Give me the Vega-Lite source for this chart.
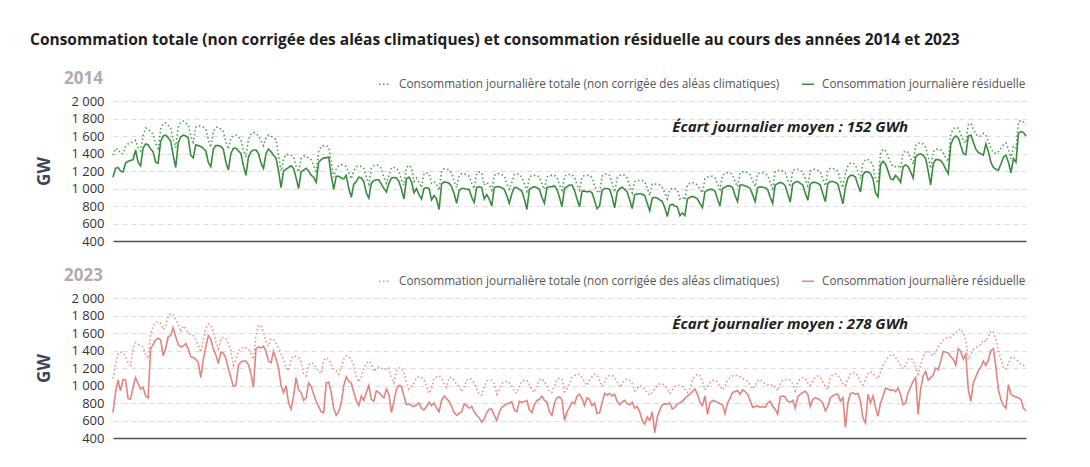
{
"$schema":"https://vega.github.io/schema/vega-lite/v6.json",
"padding":{"left":30,"top":32,"right":0,"bottom":0},
"title":{"text":"Consommation totale (non corrigée des aléas climatiques) et consommation résiduelle au cours des années 2014 et 2023","anchor":"start","frame":"group","dx":-83,"fontSize":15.5,"fontWeight":"bold","font":"Open Sans","color":"#1e1e1e","offset":22},
"config":{"font":"Open Sans","view":{"stroke":null},"axis":{"labelFont":"Open Sans","titleFont":"Open Sans"},"legend":{"labelFont":"Open Sans"}},
"spacing":19,
"resolve":{"scale":{"color":"independent","strokeDash":"independent"},"legend":{"color":"independent","strokeDash":"independent"}},
"datasets":{"daily":[
{"d":0,"a":1380,"b":1130,"c":1080,"e":690},{"d":1,"a":1460,"b":1230,"c":1250,"e":920},{"d":2,"a":1450,"b":1240,"c":1360,"e":1060},{"d":3,"a":1400,"b":1200,"c":1380,"e":940},{"d":4,"a":1400,"b":1190,"c":1370,"e":1070},{"d":5,"a":1480,"b":1290,"c":1330,"e":1065},{"d":6,"a":1510,"b":1310,"c":1260,"e":850},
{"d":7,"a":1520,"b":1320,"c":1230,"e":845},{"d":8,"a":1530,"b":1330,"c":1430,"e":980},{"d":9,"a":1550,"b":1440,"c":1490,"e":1090},{"d":10,"a":1470,"b":1300,"c":1470,"e":1020},{"d":11,"a":1430,"b":1260,"c":1460,"e":960},{"d":12,"a":1600,"b":1460,"c":1440,"e":980},{"d":13,"a":1690,"b":1510,"c":1350,"e":880},
{"d":14,"a":1680,"b":1500,"c":1310,"e":860},{"d":15,"a":1650,"b":1450,"c":1570,"e":1420},{"d":16,"a":1620,"b":1420,"c":1680,"e":1470},{"d":17,"a":1520,"b":1300,"c":1720,"e":1520},{"d":18,"a":1460,"b":1290,"c":1730,"e":1540},{"d":19,"a":1680,"b":1540,"c":1710,"e":1520},{"d":20,"a":1740,"b":1600,"c":1640,"e":1340},
{"d":21,"a":1750,"b":1610,"c":1680,"e":1420},{"d":22,"a":1720,"b":1580,"c":1800,"e":1560},{"d":23,"a":1690,"b":1540,"c":1820,"e":1570},{"d":24,"a":1560,"b":1380,"c":1810,"e":1660},{"d":25,"a":1470,"b":1240,"c":1760,"e":1560},{"d":26,"a":1700,"b":1520,"c":1700,"e":1470},{"d":27,"a":1760,"b":1590,"c":1610,"e":1440},
{"d":28,"a":1770,"b":1610,"c":1680,"e":1450},{"d":29,"a":1750,"b":1600,"c":1650,"e":1480},{"d":30,"a":1730,"b":1580,"c":1600,"e":1420},{"d":31,"a":1600,"b":1380,"c":1580,"e":1330},{"d":32,"a":1530,"b":1350,"c":1570,"e":1320},{"d":33,"a":1700,"b":1500,"c":1520,"e":1300},{"d":34,"a":1720,"b":1490,"c":1460,"e":1260},
{"d":35,"a":1710,"b":1480,"c":1380,"e":1090},{"d":36,"a":1700,"b":1460,"c":1530,"e":1300},{"d":37,"a":1680,"b":1430,"c":1650,"e":1440},{"d":38,"a":1560,"b":1300,"c":1705,"e":1570},{"d":39,"a":1470,"b":1250,"c":1690,"e":1530},{"d":40,"a":1650,"b":1450,"c":1610,"e":1420},{"d":41,"a":1700,"b":1490,"c":1500,"e":1350},
{"d":42,"a":1700,"b":1490,"c":1420,"e":1250},{"d":43,"a":1680,"b":1480,"c":1540,"e":1380},{"d":44,"a":1650,"b":1450,"c":1550,"e":1370},{"d":45,"a":1530,"b":1300,"c":1530,"e":1310},{"d":46,"a":1450,"b":1210,"c":1480,"e":1190},{"d":47,"a":1580,"b":1400,"c":1400,"e":1090},{"d":48,"a":1600,"b":1460,"c":1230,"e":990},
{"d":49,"a":1610,"b":1460,"c":1300,"e":1000},{"d":50,"a":1590,"b":1430,"c":1400,"e":1230},{"d":51,"a":1560,"b":1400,"c":1420,"e":1270},{"d":52,"a":1440,"b":1260,"c":1440,"e":1280},{"d":53,"a":1360,"b":1150,"c":1430,"e":1280},{"d":54,"a":1560,"b":1360,"c":1420,"e":1240},{"d":55,"a":1620,"b":1420,"c":1360,"e":1130},
{"d":56,"a":1640,"b":1440,"c":1300,"e":980},{"d":57,"a":1630,"b":1440,"c":1570,"e":1420},{"d":58,"a":1600,"b":1400,"c":1690,"e":1440},{"d":59,"a":1540,"b":1290,"c":1680,"e":1430},{"d":60,"a":1490,"b":1230,"c":1610,"e":1450},{"d":61,"a":1580,"b":1400,"c":1500,"e":1390},{"d":62,"a":1610,"b":1450,"c":1450,"e":1280},
{"d":63,"a":1600,"b":1420,"c":1530,"e":1260},{"d":64,"a":1580,"b":1380,"c":1530,"e":1390},{"d":65,"a":1560,"b":1350,"c":1480,"e":1300},{"d":66,"a":1380,"b":1200,"c":1430,"e":1200},{"d":67,"a":1200,"b":1010,"c":1360,"e":1000},{"d":68,"a":1330,"b":1200,"c":1300,"e":920},{"d":69,"a":1390,"b":1220,"c":1210,"e":1000},
{"d":70,"a":1390,"b":1240,"c":1170,"e":800},{"d":71,"a":1380,"b":1260,"c":1300,"e":730},{"d":72,"a":1360,"b":1230,"c":1340,"e":880},{"d":73,"a":1260,"b":1120,"c":1330,"e":1090},{"d":74,"a":1190,"b":1000,"c":1320,"e":950},{"d":75,"a":1340,"b":1190,"c":1270,"e":920},{"d":76,"a":1370,"b":1210,"c":1130,"e":830},
{"d":77,"a":1370,"b":1230,"c":1110,"e":860},{"d":78,"a":1350,"b":1200,"c":1230,"e":1030},{"d":79,"a":1330,"b":1150,"c":1260,"e":990},{"d":80,"a":1260,"b":1130,"c":1250,"e":900},{"d":81,"a":1200,"b":1070,"c":1200,"e":820},{"d":82,"a":1420,"b":1300,"c":1160,"e":760},{"d":83,"a":1480,"b":1330,"c":1140,"e":700},
{"d":84,"a":1490,"b":1350,"c":1280,"e":690},{"d":85,"a":1490,"b":1350,"c":1320,"e":1030},{"d":86,"a":1470,"b":1360,"c":1300,"e":1040},{"d":87,"a":1300,"b":1150,"c":1250,"e":920},{"d":88,"a":1130,"b":990,"c":1180,"e":740},{"d":89,"a":1220,"b":1140,"c":1170,"e":660},{"d":90,"a":1260,"b":1140,"c":1130,"e":700},
{"d":91,"a":1270,"b":1120,"c":1200,"e":800},{"d":92,"a":1270,"b":1110,"c":1300,"e":1000},{"d":93,"a":1250,"b":1150,"c":1340,"e":1100},{"d":94,"a":1180,"b":1000,"c":1330,"e":1050},{"d":95,"a":1110,"b":900,"c":1300,"e":1030},{"d":96,"a":1200,"b":1050,"c":1230,"e":920},{"d":97,"a":1250,"b":1080,"c":1100,"e":830},
{"d":98,"a":1260,"b":1130,"c":1040,"e":770},{"d":99,"a":1250,"b":1120,"c":1100,"e":880},{"d":100,"a":1230,"b":1080,"c":1200,"e":830},{"d":101,"a":1120,"b":950,"c":1250,"e":920},{"d":102,"a":1050,"b":890,"c":1280,"e":1000},{"d":103,"a":1230,"b":1060,"c":1250,"e":840},{"d":104,"a":1260,"b":1090,"c":1160,"e":820},
{"d":105,"a":1270,"b":1100,"c":1190,"e":940},{"d":106,"a":1260,"b":1100,"c":1210,"e":920},{"d":107,"a":1230,"b":1050,"c":1200,"e":890},{"d":108,"a":1130,"b":1000,"c":1180,"e":860},{"d":109,"a":1060,"b":960,"c":1190,"e":960},{"d":110,"a":1150,"b":1060,"c":1200,"e":900},{"d":111,"a":1240,"b":1120,"c":1090,"e":690},
{"d":112,"a":1240,"b":1125,"c":1030,"e":820},{"d":113,"a":1230,"b":1120,"c":1170,"e":960},{"d":114,"a":1200,"b":1080,"c":1200,"e":1000},{"d":115,"a":1100,"b":990,"c":1200,"e":990},{"d":116,"a":1040,"b":880,"c":1150,"e":880},{"d":117,"a":1240,"b":1110,"c":1040,"e":780},{"d":118,"a":1265,"b":1130,"c":960,"e":790},
{"d":119,"a":1240,"b":1080,"c":990,"e":770},{"d":120,"a":1080,"b":950,"c":1030,"e":760},{"d":121,"a":1120,"b":1000,"c":1090,"e":780},{"d":122,"a":1070,"b":930,"c":1100,"e":800},{"d":123,"a":1010,"b":880,"c":1090,"e":740},{"d":124,"a":1170,"b":1000,"c":1070,"e":720},{"d":125,"a":1180,"b":1010,"c":990,"e":760},
{"d":126,"a":1170,"b":1000,"c":910,"e":810},{"d":127,"a":1060,"b":870,"c":960,"e":770},{"d":128,"a":1080,"b":920,"c":1080,"e":800},{"d":129,"a":1050,"b":880,"c":1100,"e":740},{"d":130,"a":980,"b":760,"c":1110,"e":700},{"d":131,"a":1200,"b":1050,"c":1080,"e":830},{"d":132,"a":1225,"b":1075,"c":1020,"e":880},
{"d":133,"a":1225,"b":1070,"c":980,"e":850},{"d":134,"a":1210,"b":1060,"c":1090,"e":820},{"d":135,"a":1180,"b":1020,"c":1090,"e":760},{"d":136,"a":1080,"b":940,"c":1060,"e":690},{"d":137,"a":1010,"b":830,"c":1010,"e":660},{"d":138,"a":1150,"b":980,"c":990,"e":680},{"d":139,"a":1170,"b":1000,"c":930,"e":700},
{"d":140,"a":1165,"b":1000,"c":980,"e":790},{"d":141,"a":1160,"b":990,"c":1060,"e":770},{"d":142,"a":1140,"b":990,"c":1080,"e":740},{"d":143,"a":1060,"b":900,"c":1070,"e":760},{"d":144,"a":1000,"b":840,"c":1030,"e":700},{"d":145,"a":1170,"b":1010,"c":960,"e":660},{"d":146,"a":1190,"b":1020,"c":900,"e":630},
{"d":147,"a":1180,"b":1010,"c":890,"e":580},{"d":148,"a":1040,"b":880,"c":990,"e":620},{"d":149,"a":1070,"b":930,"c":1050,"e":690},{"d":150,"a":1040,"b":880,"c":1060,"e":730},{"d":151,"a":980,"b":800,"c":1060,"e":730},{"d":152,"a":1150,"b":1010,"c":1020,"e":660},{"d":153,"a":1170,"b":1020,"c":900,"e":600},
{"d":154,"a":1170,"b":1020,"c":960,"e":690},{"d":155,"a":1160,"b":1010,"c":1020,"e":750},{"d":156,"a":1140,"b":990,"c":1040,"e":770},{"d":157,"a":1060,"b":920,"c":1050,"e":790},{"d":158,"a":990,"b":830,"c":1030,"e":800},{"d":159,"a":1070,"b":940,"c":990,"e":815},{"d":160,"a":1160,"b":1010,"c":940,"e":720},
{"d":161,"a":1170,"b":1010,"c":910,"e":700},{"d":162,"a":1160,"b":990,"c":990,"e":820},{"d":163,"a":1130,"b":970,"c":1050,"e":810},{"d":164,"a":1050,"b":880,"c":1060,"e":815},{"d":165,"a":970,"b":760,"c":1060,"e":830},{"d":166,"a":1130,"b":990,"c":1010,"e":720},{"d":167,"a":1150,"b":1010,"c":950,"e":690},
{"d":168,"a":1150,"b":1020,"c":920,"e":780},{"d":169,"a":1150,"b":1010,"c":1000,"e":830},{"d":170,"a":1130,"b":990,"c":1060,"e":840},{"d":171,"a":1050,"b":900,"c":1080,"e":880},{"d":172,"a":990,"b":830,"c":1040,"e":830},{"d":173,"a":1130,"b":1010,"c":990,"e":810},{"d":174,"a":1150,"b":1020,"c":930,"e":700},
{"d":175,"a":1150,"b":1020,"c":920,"e":660},{"d":176,"a":1150,"b":1030,"c":1000,"e":800},{"d":177,"a":1130,"b":990,"c":1070,"e":860},{"d":178,"a":1040,"b":900,"c":1085,"e":870},{"d":179,"a":980,"b":790,"c":1070,"e":840},{"d":180,"a":1140,"b":1000,"c":930,"e":600},{"d":181,"a":1160,"b":1020,"c":960,"e":700},
{"d":182,"a":1160,"b":1040,"c":1030,"e":750},{"d":183,"a":1160,"b":1040,"c":1090,"e":810},{"d":184,"a":1130,"b":980,"c":1110,"e":790},{"d":185,"a":1040,"b":880,"c":1130,"e":880},{"d":186,"a":980,"b":790,"c":1125,"e":900},{"d":187,"a":1130,"b":970,"c":1090,"e":850},{"d":188,"a":1150,"b":970,"c":1040,"e":770},
{"d":189,"a":1150,"b":960,"c":1000,"e":860},{"d":190,"a":1150,"b":970,"c":1060,"e":840},{"d":191,"a":1120,"b":950,"c":1100,"e":770},{"d":192,"a":1030,"b":860,"c":1130,"e":800},{"d":193,"a":970,"b":770,"c":1120,"e":680},{"d":194,"a":950,"b":800,"c":1060,"e":690},{"d":195,"a":1140,"b":980,"c":990,"e":800},
{"d":196,"a":1160,"b":1000,"c":1040,"e":910},{"d":197,"a":1170,"b":1000,"c":1100,"e":890},{"d":198,"a":1150,"b":990,"c":1115,"e":910},{"d":199,"a":1060,"b":900,"c":1115,"e":880},{"d":200,"a":960,"b":780,"c":1090,"e":900},{"d":201,"a":1120,"b":960,"c":1040,"e":820},{"d":202,"a":1150,"b":1000,"c":980,"e":780},
{"d":203,"a":1160,"b":1015,"c":1020,"e":810},{"d":204,"a":1150,"b":990,"c":1065,"e":830},{"d":205,"a":1120,"b":960,"c":1075,"e":790},{"d":206,"a":1030,"b":870,"c":1060,"e":780},{"d":207,"a":950,"b":770,"c":1020,"e":810},{"d":208,"a":1080,"b":930,"c":940,"e":740},{"d":209,"a":1090,"b":935,"c":970,"e":760},
{"d":210,"a":1095,"b":940,"c":1000,"e":700},{"d":211,"a":1090,"b":935,"c":990,"e":600},{"d":212,"a":1080,"b":920,"c":960,"e":560},{"d":213,"a":1000,"b":830,"c":920,"e":640},{"d":214,"a":920,"b":745,"c":890,"e":600},{"d":215,"a":1050,"b":890,"c":920,"e":700},{"d":216,"a":1050,"b":900,"c":960,"e":460},
{"d":217,"a":1050,"b":890,"c":1000,"e":640},{"d":218,"a":1040,"b":870,"c":1020,"e":720},{"d":219,"a":1010,"b":850,"c":1020,"e":780},{"d":220,"a":950,"b":780,"c":1000,"e":790},{"d":221,"a":880,"b":680,"c":960,"e":790},{"d":222,"a":990,"b":810,"c":910,"e":800},{"d":223,"a":1000,"b":820,"c":950,"e":730},
{"d":224,"a":1000,"b":800,"c":990,"e":750},{"d":225,"a":980,"b":790,"c":1000,"e":790},{"d":226,"a":880,"b":690,"c":1000,"e":800},{"d":227,"a":900,"b":720,"c":990,"e":820},{"d":228,"a":870,"b":690,"c":960,"e":850},{"d":229,"a":1040,"b":880,"c":920,"e":880},{"d":230,"a":1060,"b":900,"c":960,"e":900},
{"d":231,"a":1070,"b":910,"c":1060,"e":930},{"d":232,"a":1060,"b":900,"c":1110,"e":960},{"d":233,"a":1040,"b":880,"c":1130,"e":900},{"d":234,"a":990,"b":830,"c":1110,"e":810},{"d":235,"a":950,"b":780,"c":1050,"e":770},{"d":236,"a":1110,"b":960,"c":950,"e":880},{"d":237,"a":1130,"b":980,"c":990,"e":670},
{"d":238,"a":1140,"b":990,"c":1030,"e":800},{"d":239,"a":1140,"b":990,"c":1060,"e":830},{"d":240,"a":1120,"b":970,"c":1060,"e":820},{"d":241,"a":1050,"b":880,"c":1040,"e":810},{"d":242,"a":990,"b":800,"c":1000,"e":790},{"d":243,"a":1150,"b":1000,"c":950,"e":780},{"d":244,"a":1170,"b":1015,"c":990,"e":680},
{"d":245,"a":1180,"b":1030,"c":1060,"e":800},{"d":246,"a":1180,"b":1030,"c":1090,"e":850},{"d":247,"a":1160,"b":1010,"c":1110,"e":920},{"d":248,"a":1080,"b":920,"c":1120,"e":930},{"d":249,"a":1020,"b":850,"c":1110,"e":940},{"d":250,"a":1180,"b":1040,"c":1100,"e":900},{"d":251,"a":1190,"b":1040,"c":1080,"e":950},
{"d":252,"a":1190,"b":1030,"c":1060,"e":930},{"d":253,"a":1180,"b":1020,"c":1050,"e":900},{"d":254,"a":1160,"b":1000,"c":1010,"e":830},{"d":255,"a":1090,"b":930,"c":960,"e":750},{"d":256,"a":1020,"b":850,"c":1000,"e":760},{"d":257,"a":1170,"b":1010,"c":1050,"e":770},{"d":258,"a":1180,"b":1020,"c":1070,"e":750},
{"d":259,"a":1180,"b":1015,"c":1040,"e":760},{"d":260,"a":1170,"b":1010,"c":1020,"e":750},{"d":261,"a":1150,"b":990,"c":1010,"e":800},{"d":262,"a":1070,"b":900,"c":1000,"e":820},{"d":263,"a":1000,"b":830,"c":1010,"e":760},{"d":264,"a":1190,"b":1040,"c":980,"e":730},{"d":265,"a":1200,"b":1055,"c":940,"e":670},
{"d":266,"a":1210,"b":1070,"c":1020,"e":870},{"d":267,"a":1200,"b":1060,"c":1060,"e":880},{"d":268,"a":1180,"b":1030,"c":1070,"e":870},{"d":269,"a":1100,"b":940,"c":1070,"e":820},{"d":270,"a":1020,"b":845,"c":1060,"e":810},{"d":271,"a":1200,"b":1050,"c":1020,"e":830},{"d":272,"a":1220,"b":1075,"c":940,"e":740},
{"d":273,"a":1220,"b":1080,"c":1030,"e":870},{"d":274,"a":1210,"b":1060,"c":1080,"e":900},{"d":275,"a":1190,"b":1040,"c":1090,"e":920},{"d":276,"a":1110,"b":950,"c":1080,"e":935},{"d":277,"a":1030,"b":865,"c":1030,"e":900},{"d":278,"a":1200,"b":1050,"c":1000,"e":760},{"d":279,"a":1220,"b":1070,"c":1050,"e":840},
{"d":280,"a":1220,"b":1070,"c":1090,"e":860},{"d":281,"a":1210,"b":1060,"c":1110,"e":850},{"d":282,"a":1190,"b":1040,"c":1090,"e":830},{"d":283,"a":1110,"b":940,"c":1040,"e":800},{"d":284,"a":1030,"b":850,"c":990,"e":710},{"d":285,"a":1210,"b":1060,"c":955,"e":760},{"d":286,"a":1230,"b":1080,"c":1090,"e":860},
{"d":287,"a":1230,"b":1080,"c":1125,"e":880},{"d":288,"a":1220,"b":1070,"c":1130,"e":900},{"d":289,"a":1200,"b":1050,"c":1120,"e":900},{"d":290,"a":1100,"b":940,"c":1070,"e":820},{"d":291,"a":1010,"b":825,"c":1020,"e":860},{"d":292,"a":1170,"b":1010,"c":1000,"e":520},{"d":293,"a":1260,"b":1120,"c":1080,"e":800},
{"d":294,"a":1290,"b":1150,"c":1130,"e":910},{"d":295,"a":1290,"b":1150,"c":1146,"e":915},{"d":296,"a":1270,"b":1130,"c":1150,"e":900},{"d":297,"a":1190,"b":1040,"c":1100,"e":910},{"d":298,"a":1110,"b":960,"c":1040,"e":820},{"d":299,"a":1300,"b":1160,"c":1010,"e":630},{"d":300,"a":1330,"b":1190,"c":1070,"e":570},
{"d":301,"a":1330,"b":1190,"c":1130,"e":900},{"d":302,"a":1310,"b":1170,"c":1160,"e":800},{"d":303,"a":1260,"b":1110,"c":1140,"e":880},{"d":304,"a":1110,"b":950,"c":1100,"e":750},{"d":305,"a":1060,"b":905,"c":1080,"e":650},{"d":306,"a":1400,"b":1270,"c":1150,"e":800},{"d":307,"a":1450,"b":1310,"c":1230,"e":880},
{"d":308,"a":1430,"b":1280,"c":1280,"e":970},{"d":309,"a":1360,"b":1200,"c":1320,"e":960},{"d":310,"a":1300,"b":1110,"c":1345,"e":945},{"d":311,"a":1250,"b":1100,"c":1357,"e":950},{"d":312,"a":1250,"b":1150,"c":1320,"e":930},{"d":313,"a":1260,"b":1120,"c":1280,"e":970},{"d":314,"a":1230,"b":1070,"c":1230,"e":900},
{"d":315,"a":1410,"b":1250,"c":1190,"e":780},{"d":316,"a":1430,"b":1270,"c":1230,"e":800},{"d":317,"a":1410,"b":1250,"c":1300,"e":920},{"d":318,"a":1340,"b":1190,"c":1310,"e":980},{"d":319,"a":1280,"b":1120,"c":1290,"e":1050},{"d":320,"a":1490,"b":1360,"c":1200,"e":1090},{"d":321,"a":1520,"b":1390,"c":1130,"e":670},
{"d":322,"a":1520,"b":1395,"c":1230,"e":960},{"d":323,"a":1510,"b":1380,"c":1330,"e":1110},{"d":324,"a":1470,"b":1340,"c":1380,"e":1160},{"d":325,"a":1360,"b":1200,"c":1395,"e":1060},{"d":326,"a":1230,"b":1040,"c":1370,"e":1090},{"d":327,"a":1420,"b":1280,"c":1340,"e":1120},{"d":328,"a":1450,"b":1330,"c":1390,"e":1200},
{"d":329,"a":1450,"b":1330,"c":1440,"e":1180},{"d":330,"a":1440,"b":1320,"c":1480,"e":1280},{"d":331,"a":1410,"b":1280,"c":1520,"e":1390},{"d":332,"a":1350,"b":1220,"c":1540,"e":1380},{"d":333,"a":1310,"b":1170,"c":1545,"e":1370},{"d":334,"a":1620,"b":1500,"c":1550,"e":1330},{"d":335,"a":1680,"b":1570,"c":1580,"e":1300},
{"d":336,"a":1700,"b":1600,"c":1600,"e":1230},{"d":337,"a":1690,"b":1580,"c":1630,"e":1420},{"d":338,"a":1620,"b":1490,"c":1645,"e":1390},{"d":339,"a":1540,"b":1400,"c":1600,"e":1300},{"d":340,"a":1520,"b":1385,"c":1520,"e":1360},{"d":341,"a":1730,"b":1600,"c":1300,"e":950},{"d":342,"a":1745,"b":1610,"c":1350,"e":820},
{"d":343,"a":1680,"b":1530,"c":1410,"e":1030},{"d":344,"a":1620,"b":1450,"c":1433,"e":1100},{"d":345,"a":1600,"b":1410,"c":1450,"e":1170},{"d":346,"a":1600,"b":1400,"c":1470,"e":1210},{"d":347,"a":1630,"b":1380,"c":1520,"e":1280},{"d":348,"a":1610,"b":1510,"c":1500,"e":1230},{"d":349,"a":1540,"b":1420,"c":1560,"e":1290},
{"d":350,"a":1460,"b":1300,"c":1625,"e":1400},{"d":351,"a":1410,"b":1240,"c":1610,"e":1420},{"d":352,"a":1400,"b":1220,"c":1520,"e":1210},{"d":353,"a":1420,"b":1210,"c":1400,"e":950},{"d":354,"a":1460,"b":1280,"c":1300,"e":840},{"d":355,"a":1500,"b":1360,"c":1200,"e":770},{"d":356,"a":1520,"b":1380,"c":1190,"e":740},
{"d":357,"a":1450,"b":1300,"c":1250,"e":1010},{"d":358,"a":1340,"b":1180,"c":1320,"e":900},{"d":359,"a":1480,"b":1340,"c":1320,"e":880},{"d":360,"a":1460,"b":1300,"c":1300,"e":870},{"d":361,"a":1760,"b":1630,"c":1270,"e":860},{"d":362,"a":1780,"b":1650,"c":1240,"e":840},{"d":363,"a":1760,"b":1640,"c":1230,"e":740},
{"d":364,"a":1730,"b":1600,"c":1220,"e":710}
]},
"vconcat":[
{
"width":913,"height":140,
"title":{"text":"2014","anchor":"start","frame":"group","align":"right","dx":-10,"fontSize":17,"fontWeight":"bold","color":"#b5a9b1","offset":-11},
"layer":[
{"data":{"name":"daily"},
"transform":[{"fold":["a","b"],"as":["s","v"]}],
"mark":{"type":"line","strokeWidth":1.6},
"encoding":{
"x":{"field":"d","type":"quantitative","scale":{"domain":[0,364],"nice":false,"zero":false},"axis":{"title":null,"labels":false,"ticks":false,"grid":false,"domainColor":"#4d5269","domainWidth":1.5}},
"y":{"field":"v","type":"quantitative","scale":{"domain":[400,2000],"nice":false,"zero":false},"axis":{"title":"GW","titleFontSize":17,"titleFontWeight":"bold","titleColor":"#3b4658","titlePadding":17,"values":[400,600,800,1000,1200,1400,1600,1800,2000],"tickCount":12,"labelOverlap":false,"labelExpr":"replace(format(datum.value, ','), ',', ' ')","labelFontSize":13,"labelColor":"#333333","labelPadding":9,"ticks":false,"domain":false,"grid":true,"gridDash":[5,4],"gridColor":"#dcdcdc"}},
"color":{"field":"s","type":"nominal","scale":{"domain":["a","b"],"range":["#4f9d52","#3b8b3f"]},"legend":{"orient":"none","legendX":265,"legendY":-24,"direction":"horizontal","title":null,"padding":0,"symbolType":"stroke","symbolSize":144,"symbolStrokeWidth":1.5,"labelFontSize":11.75,"labelLimit":600,"labelColor":"#555555","labelOffset":7,"columnPadding":19,"labelExpr":"datum.label == 'a' ? 'Consommation journalière totale (non corrigée des aléas climatiques)' : 'Consommation journalière résiduelle'"}},
"strokeDash":{"field":"s","type":"nominal","scale":{"domain":["a","b"],"range":[[1.5,2.5],[1,0]]},"legend":{"orient":"none","legendX":265,"legendY":-24,"direction":"horizontal","title":null,"padding":0,"symbolType":"stroke","symbolSize":144,"symbolStrokeWidth":1.5,"labelFontSize":11.75,"labelLimit":600,"labelColor":"#555555","labelOffset":7,"columnPadding":19,"labelExpr":"datum.label == 'a' ? 'Consommation journalière totale (non corrigée des aléas climatiques)' : 'Consommation journalière résiduelle'"}}
}},
{"data":{"values":[{}]},
"mark":{"type":"text","text":"Écart journalier moyen : 152 GWh","align":"left","baseline":"middle","fontSize":15,"fontWeight":"bold","fontStyle":"italic","color":"#222222","font":"Open Sans"},
"encoding":{"x":{"datum":223,"type":"quantitative"},"y":{"datum":1700,"type":"quantitative"}}}
]
},
{
"width":913,"height":140,
"title":{"text":"2023","anchor":"start","frame":"group","align":"right","dx":-10,"fontSize":17,"fontWeight":"bold","color":"#b5a9b1","offset":-11},
"layer":[
{"data":{"name":"daily"},
"transform":[{"fold":["c","e"],"as":["s","v"]}],
"mark":{"type":"line","strokeWidth":1.6},
"encoding":{
"x":{"field":"d","type":"quantitative","scale":{"domain":[0,364],"nice":false,"zero":false},"axis":{"title":null,"labels":false,"ticks":false,"grid":false,"domainColor":"#4d5269","domainWidth":1.5}},
"y":{"field":"v","type":"quantitative","scale":{"domain":[400,2000],"nice":false,"zero":false},"axis":{"title":"GW","titleFontSize":17,"titleFontWeight":"bold","titleColor":"#3b4658","titlePadding":17,"values":[400,600,800,1000,1200,1400,1600,1800,2000],"tickCount":12,"labelOverlap":false,"labelExpr":"replace(format(datum.value, ','), ',', ' ')","labelFontSize":13,"labelColor":"#333333","labelPadding":9,"ticks":false,"domain":false,"grid":true,"gridDash":[5,4],"gridColor":"#dcdcdc"}},
"color":{"field":"s","type":"nominal","scale":{"domain":["c","e"],"range":["#e4908b","#e0857f"]},"legend":{"orient":"none","legendX":265,"legendY":-24,"direction":"horizontal","title":null,"padding":0,"symbolType":"stroke","symbolSize":144,"symbolStrokeWidth":1.5,"labelFontSize":11.75,"labelLimit":600,"labelColor":"#555555","labelOffset":7,"columnPadding":19,"labelExpr":"datum.label == 'c' ? 'Consommation journalière totale (non corrigée des aléas climatiques)' : 'Consommation journalière résiduelle'"}},
"strokeDash":{"field":"s","type":"nominal","scale":{"domain":["c","e"],"range":[[1.5,2.5],[1,0]]},"legend":{"orient":"none","legendX":265,"legendY":-24,"direction":"horizontal","title":null,"padding":0,"symbolType":"stroke","symbolSize":144,"symbolStrokeWidth":1.5,"labelFontSize":11.75,"labelLimit":600,"labelColor":"#555555","labelOffset":7,"columnPadding":19,"labelExpr":"datum.label == 'c' ? 'Consommation journalière totale (non corrigée des aléas climatiques)' : 'Consommation journalière résiduelle'"}}
}},
{"data":{"values":[{}]},
"mark":{"type":"text","text":"Écart journalier moyen : 278 GWh","align":"left","baseline":"middle","fontSize":15,"fontWeight":"bold","fontStyle":"italic","color":"#222222","font":"Open Sans"},
"encoding":{"x":{"datum":223,"type":"quantitative"},"y":{"datum":1700,"type":"quantitative"}}}
]
}
]
}
